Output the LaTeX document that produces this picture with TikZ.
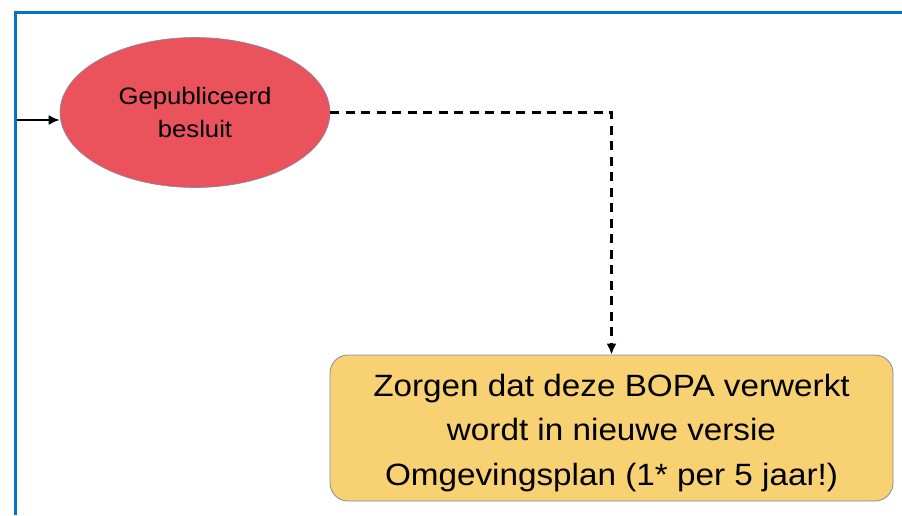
\documentclass[tikz,border=0pt]{standalone}
\usepackage{fontspec}
\setmainfont[FakeStretch=1.08]{Liberation Sans}
\usepackage{xcolor}
\usepackage{tikz}
\usetikzlibrary{arrows.meta,shapes.geometric}
\definecolor{framblue}{RGB}{0,116,202}
\definecolor{besred}{RGB}{234,82,92}
\definecolor{taskyellow}{RGB}{247,209,114}
\definecolor{edgegray}{RGB}{128,140,165}

\begin{document}
\begin{tikzpicture}[x=1pt, y=-1pt]
  \useasboundingbox (0, 0) rectangle (902, 515);

  % frame
  \draw[framblue, line width=2.5pt] (15.5, 515) -- (15.5, 12.5) -- (902, 12.5);

  \node[ellipse, draw=edgegray, line width=0.6pt, fill=besred, minimum width=270pt, minimum height=150pt, inner sep=0pt, align=center, font=\fontsize{23.8}{32.5}\selectfont] (besluit) at (195, 112.5) {Gepubliceerd\\besluit};
  \node[rectangle, rounded corners=18pt, draw=edgegray, line width=0.8pt, fill=taskyellow, minimum width=563pt, minimum height=146pt, inner sep=0pt] (bopa) at (611.5, 428) {};
  \node[align=center, inner sep=0pt, font=\fontsize{30.8}{44.5}\selectfont] (bopatext) at ([yshift=-5pt]bopa.center) {Zorgen dat deze BOPA verwerkt\\wordt in nieuwe versie\\Omgevingsplan (1* per 5 jaar!)};

  \coordinate (start) at (16.5, 120);
  \draw[line width=2pt, -{Latex[length=11pt, width=10pt]}] (start) -- (start -| besluit.west);
  \draw[line width=2.2pt, dash pattern=on 9pt off 6.5pt, -{Latex[length=11pt, width=10pt]}] (besluit.east) -| (bopa.north);

  \end{tikzpicture}
\end{document}
